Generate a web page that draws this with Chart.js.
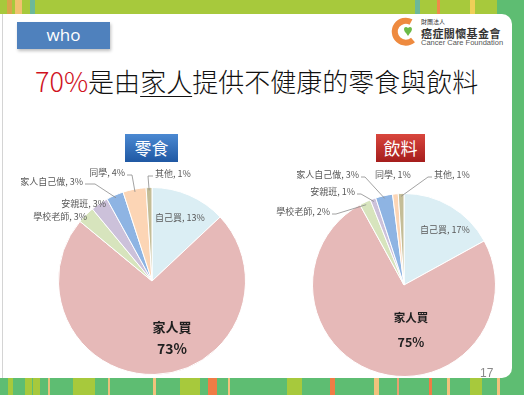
<!DOCTYPE html>
<html>
<head>
<meta charset="utf-8">
<script src="https://cdn.jsdelivr.net/npm/chart.js@4.4.0/dist/chart.umd.min.js"></script>
<style>
  body { margin:0; width:524px; height:395px; overflow:hidden; position:relative;
         background:#5ebd72; font-family:"Noto Sans CJK TC", sans-serif; }
  .abs { position:absolute; }
  #topbar { left:0; top:0; width:497px; height:14px; background:#a7c93c; }
  #sheet { left:0; top:14px; width:512px; height:364px; background:#fff;
           border-radius:0 10px 10px 0; }
  #edge { left:2px; top:14px; width:1px; height:364px; background:#d4d4d4; }
  #who { left:17px; top:22px; width:93px; height:27px; background:#4f81bd;
         box-shadow:1px 2px 3px rgba(0,0,0,0.25); color:#fff; text-align:center;
         font:17px/26px "Open Sans", sans-serif; }
  #title { left:35px; top:67px; font-size:26px; line-height:28px; color:#111;
           white-space:nowrap; font-weight:300; }
  #title .red { color:#d0121e; font-size:27px; }
  #title u { text-decoration-thickness:1px; text-underline-offset:4px; }
  .tag { top:134px; height:28px; color:#fff; text-align:center; font-size:17px; line-height:28px; }
  #tagSnack { left:125px; width:53px; background:linear-gradient(#4b89d2,#1f58a3); }
  #tagDrink { left:376px; width:49px; background:linear-gradient(#d9463d,#a51d1c); }
  #logoText1 { left:421px; top:17px; font-size:6px; color:#333; }
  #logoText2 { left:421px; top:25px; font-size:11px; font-weight:bold; color:#333; letter-spacing:0.4px; }
  #logoText3 { left:421px; top:38px; font:7.5px "Liberation Sans", sans-serif; color:#555; }
  #page { left:480px; top:366px; font:12px "Liberation Sans", sans-serif; color:#8a8a8a; }
  canvas { position:absolute; top:160px; }
</style>
</head>
<body>
<div id="topbar" class="abs"></div>
<div id="sheet" class="abs"></div>
<div id="edge" class="abs"></div>
<div id="who" class="abs">who</div>
<svg class="abs" style="left:391px;top:16px" width="30" height="30" viewBox="0 0 30 30">
  <path d="M20 6 A11 11 0 1 0 22 24" fill="none" stroke="#ee8a3f" stroke-width="6"/>
  <path d="M15 17 C11 13 14 9 17 12 C20 9 23 13 19 17 L17 20 Z" fill="#6cba47"/>
</svg>
<div id="logoText1" class="abs">財團法人</div>
<div id="logoText2" class="abs">癌症關懷基金會</div>
<div id="logoText3" class="abs">Cancer Care Foundation</div>
<div id="title" class="abs"><span class="red">70%</span>是由<u>家人</u>提供不健康的零食與飲料</div>
<div id="tagSnack" class="abs tag">零食</div>
<div id="tagDrink" class="abs tag">飲料</div>
<canvas id="snackChart" width="262" height="230" style="left:0"></canvas>
<canvas id="drinkChart" width="262" height="230" style="left:262px"></canvas>
<div id="page" class="abs">17</div>

<script>
// ==== Data ====
var categories = ['自己買', '家人買', '學校老師', '安親班', '家人自己做', '同學', '其他'];
var snackValues = [13, 73, 3, 3, 3, 4, 1];
var drinkValues = [17, 75, 2, 1, 3, 1, 1];
var sliceColors = ['#dbeef4', '#e6b9b8', '#d7e4bd', '#ccc1da', '#8eb4e3', '#fcd5b5', '#c4bd97'];

// ==== Frame stripes (decoration) ====
function stripe(x, y, w, h, c) {
    var d = document.createElement('div');
    d.className = 'abs';
    d.style.cssText = 'left:' + x + 'px;top:' + y + 'px;width:' + w + 'px;height:' + h + 'px;background:' + c;
    document.body.insertBefore(d, document.getElementById('sheet'));
}
[[7,5,'#d8a64a'],[15,7,'#f2c170'],[30,5,'#6cb89a'],[415,5,'#6cb89a'],[437,3,'#ef8a4a'],[470,5,'#f0cf58']]
    .forEach(function(s){ stripe(s[0], 0, s[1], 14, s[2]); });
[[8,5,'#a7c93c'],[25,7,'#a7c93c'],[33,7,'#a7c93c'],[48,2,'#e9c07a'],[73,22,'#a7c93c'],[108,2,'#e9c07a'],
 [153,3,'#f1c27c'],[180,20,'#a7c93c'],[208,9,'#ef7c45'],[228,2,'#f1c27c'],[287,15,'#a7c93c'],[330,5,'#ef7c45'],
 [374,5,'#f1c27c'],[397,2,'#e9a070'],[429,3,'#ef7c45'],[447,3,'#f1c27c'],[470,12,'#a7c93c'],[497,3,'#f1c27c']]
    .forEach(function(s){ stripe(s[0], 378, s[1], 17, s[2]); });

// ==== Label plugin: text + leader lines from each arc ====
var FONT = '"Noto Sans CJK TC", sans-serif';
var sliceLabels = {
    id: 'sliceLabels',
    afterDatasetsDraw: function(chart, args, opts) {
        var ctx = chart.ctx;
        var values = chart.data.datasets[0].data;
        chart.getDatasetMeta(0).data.forEach(function(arc, i) {
            var p = arc.getProps(['x', 'y', 'startAngle', 'endAngle', 'outerRadius'], true);
            var L = opts.layout[i];
            var ax = p.x + L.dx, ay = p.y + L.dy;
            ctx.save();
            ctx.textBaseline = 'middle';
            if (L.big) {
                ctx.fillStyle = '#1f1f1f';
                ctx.textAlign = 'center';
                ctx.font = 'bold ' + L.big + 'px ' + FONT;
                ctx.fillText(chart.data.labels[i], ax, ay);
                ctx.font = 'bold ' + (L.big + 1) + 'px ' + FONT;
                ctx.fillText(values[i] + '%', ax, ay + L.gap);
            } else {
                ctx.fillStyle = '#595959';
                ctx.textAlign = L.align;
                ctx.font = '9px ' + FONT;
                ctx.fillText(chart.data.labels[i] + ', ' + values[i] + '%', ax, ay);
                if (L.k) {
                    var mid = (p.startAngle + p.endAngle) / 2;
                    var ex = p.x + Math.cos(mid) * p.outerRadius * 0.97;
                    var ey = p.y + Math.sin(mid) * p.outerRadius * 0.97;
                    var sx = ax + (L.align === 'right' ? 2 : -2), sy = ay + 2;
                    ctx.strokeStyle = '#8c8c8c';
                    ctx.lineWidth = 0.8;
                    ctx.beginPath();
                    ctx.moveTo(sx, sy);
                    ctx.lineTo(sx + L.k, sy);
                    ctx.lineTo(ex, ey);
                    ctx.stroke();
                }
            }
            ctx.restore();
        });
    }
};

function drawPie(id, values, padding, layout) {
    var config = {
        type: 'pie',
        data: {
            labels: categories,
            datasets: [{
                data: values,
                backgroundColor: sliceColors,
                borderColor: '#ffffff',
                borderWidth: 1,
            }],
        },
        options: {
            responsive: false,
            animation: false,
            layout: { padding: padding },
            plugins: {
                legend: false,
                tooltip: { enabled: false },
                sliceLabels: { layout: layout },
            },
        },
        plugins: [sliceLabels],
    };
    new Chart(document.getElementById(id).getContext('2d'), config);
}

// label offsets are relative to the pie centre
drawPie('snackChart', snackValues, { left: 58, right: 16, top: 27, bottom: 15 }, [
    { dx: 28, dy: -63, align: 'center' },
    { dx: 20, dy: 46, big: 13, gap: 22 },
    { dx: -65, dy: -64, align: 'right' },
    { dx: -46, dy: -77, align: 'right' },
    { dx: -69, dy: -99, align: 'right', k: 10 },
    { dx: -27, dy: -108, align: 'right', k: 5 },
    { dx: 3, dy: -107, align: 'left', k: -5 },
]);

drawPie('drinkChart', drinkValues, { left: 50, right: 28, top: 33, bottom: 13 }, [
    { dx: 41, dy: -55, align: 'center' },
    { dx: 7, dy: 33, big: 11.5, gap: 24 },
    { dx: -74, dy: -73, align: 'right', k: 4 },
    { dx: -49, dy: -93, align: 'right', k: 4 },
    { dx: -45, dy: -110, align: 'right', k: 4 },
    { dx: -11, dy: -110, align: 'center' },
    { dx: 30, dy: -110, align: 'left', k: -4 },
]);
</script>
</body>
</html>
